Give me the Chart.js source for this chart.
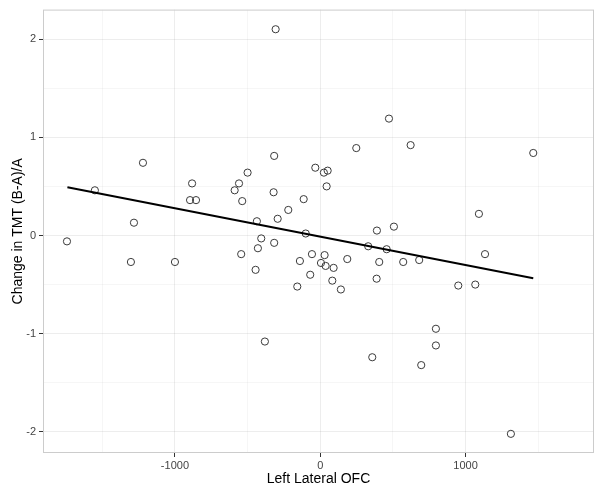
<!DOCTYPE html>
<html>
<head>
<meta charset="utf-8">
<script src="https://cdn.jsdelivr.net/npm/chart.js@4/dist/chart.umd.min.js"></script>
<style>
  html, body { margin: 0; padding: 0; background: #fff; }
  #wrap { width: 602px; height: 492px; }
</style>
</head>
<body>
<div id="wrap"><canvas id="myChart" width="602" height="492"></canvas></div>
<script>
// scatter points
var ofcX = [
  -1743, -1551, -1220, -1282, -1303, -1000, -882, -896, -855, -559,
  -589, -500, -537, -317, -321, -220, -293, -436, -406, -429,
  -317, -544, -445, -140, -307, 473, 622, 248, -34, 51,
  25, 44, -114, -100, 390, 507, 330, 457, -57, 30,
  5, 37, 92, 186, -69, -158, 83, 142, 406, 571,
  681, 388, 1092, 1134, 950, 1067, 796, 796, 695, 1312,
  -381, 358, 1466
];
var tmtY = [
  -0.06, 0.46, 0.74, 0.13, -0.27, -0.27, 0.53, 0.36, 0.36, 0.53,
  0.46, 0.64, 0.35, 0.81, 0.44, 0.26, 0.17, 0.145, -0.03, -0.13,
  -0.075, -0.19, -0.35, -0.26, 2.10, 1.19, 0.92, 0.89, 0.69, 0.66,
  0.64, 0.50, 0.37, 0.02, 0.05, 0.09, -0.11, -0.14, -0.19, -0.20,
  -0.28, -0.31, -0.33, -0.24, -0.40, -0.52, -0.46, -0.55, -0.27, -0.27,
  -0.25, -0.44, 0.22, -0.19, -0.51, -0.50, -0.95, -1.12, -1.32, -2.02,
  -1.08, -1.24, 0.84
];
// fitted line end points
var fitX = [-1740, 1466];
var fitY = [0.49, -0.435];

// grid positions (major ones get a label)
var xTicks = [-1500, -1000, -500, 0, 500, 1000, 1500];
var xLabels = [-1000, 0, 1000];
var yTicks = [-2, -1.5, -1, -0.5, 0, 0.5, 1, 1.5, 2];
var yLabels = [-2, -1, 0, 1, 2];

var points = [];
for (var i = 0; i < ofcX.length; i++) {
  points.push({ x: ofcX[i], y: tmtY[i] });
}
var fitLine = [];
for (var i = 0; i < fitX.length; i++) {
  fitLine.push({ x: fitX[i], y: fitY[i] });
}

function isMajor(v, list) {
  return list.indexOf(Math.round(v * 1000) / 1000) !== -1;
}

// light grey box round the panel
var panelBorder = {
  id: "panelBorder",
  afterDraw: function(chart) {
    var a = chart.chartArea;
    var ctx = chart.ctx;
    ctx.save();
    ctx.strokeStyle = "#cccccc";
    ctx.lineWidth = 1;
    ctx.strokeRect(a.left + 0.5, a.top + 0.5, a.right - a.left - 1, a.bottom - a.top - 1);
    ctx.restore();
  }
};

Chart.defaults.font.family = "'Liberation Sans', Arial, sans-serif";
Chart.defaults.animation = false;

var ctx = document.getElementById("myChart").getContext("2d");
var myChart = new Chart(ctx, {
  type: "scatter",
  data: {
    datasets: [
      {
        label: "fit",
        type: "line",
        data: fitLine,
        borderColor: "#000",
        borderWidth: 2,
        pointRadius: 0,
        fill: false
      },
      {
        label: "subjects",
        data: points,
        pointRadius: 3.6,
        pointBorderWidth: 1,
        pointBorderColor: "#3a3a3a",
        pointBackgroundColor: "rgba(0,0,0,0)"
      }
    ]
  },
  options: {
    responsive: false,
    layout: { padding: { top: 7, right: 8, left: 0, bottom: 0 } },
    plugins: {
      legend: { display: false },
      tooltip: { enabled: false }
    },
    scales: {
      x: {
        type: "linear",
        min: -1908,
        max: 1884,
        afterFit: function(scale) { scale.height = 39; },
        afterBuildTicks: function(scale) {
          scale.ticks = xTicks.map(function(v) { return { value: v }; });
        },
        border: { display: false },
        grid: {
          color: function(c) {
            return isMajor(c.tick.value, xLabels) ? "rgba(0,0,0,0.07)" : "rgba(0,0,0,0.035)";
          },
          tickColor: function(c) {
            return isMajor(c.tick.value, xLabels) ? "#333" : "rgba(0,0,0,0)";
          },
          tickLength: 4
        },
        ticks: {
          maxRotation: 0,
          autoSkip: false,
          padding: 2,
          color: "#444",
          font: { size: 11 },
          callback: function(v) { return isMajor(v, xLabels) ? String(v) : ""; }
        },
        title: {
          display: true,
          text: "Left Lateral OFC",
          color: "#000",
          font: { size: 14 },
          padding: { top: 2, bottom: 4 }
        }
      },
      y: {
        type: "linear",
        min: -2.215,
        max: 2.30,
        afterFit: function(scale) { scale.width = 43; },
        afterBuildTicks: function(scale) {
          scale.ticks = yTicks.map(function(v) { return { value: v }; });
        },
        border: { display: false },
        grid: {
          color: function(c) {
            return isMajor(c.tick.value, yLabels) ? "rgba(0,0,0,0.07)" : "rgba(0,0,0,0.035)";
          },
          tickColor: function(c) {
            return isMajor(c.tick.value, yLabels) ? "#333" : "rgba(0,0,0,0)";
          },
          tickLength: 4
        },
        ticks: {
          autoSkip: false,
          padding: 3,
          color: "#444",
          font: { size: 11 },
          callback: function(v) { return isMajor(v, yLabels) ? String(v) : ""; }
        },
        title: {
          display: true,
          text: "Change in TMT (B-A)/A",
          color: "#000",
          font: { size: 14 },
          padding: { top: 10, bottom: 4 }
        }
      }
    }
  },
  plugins: [panelBorder]
});
</script>
</body>
</html>
